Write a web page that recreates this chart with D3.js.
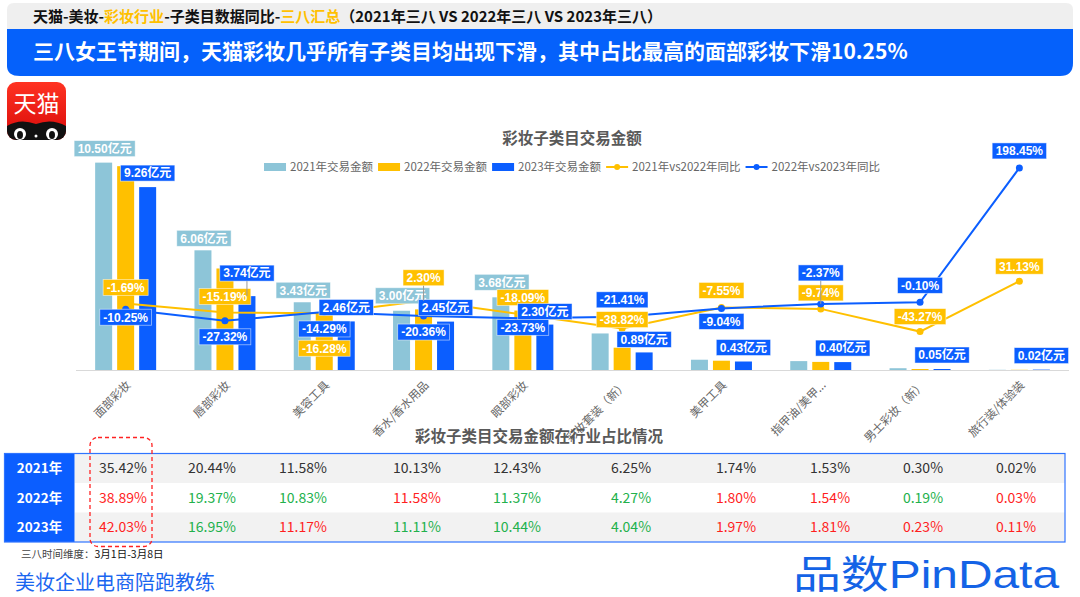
<!DOCTYPE html>
<html><head><meta charset="utf-8">
<script src="https://cdn.jsdelivr.net/npm/d3@7"></script>
<style>
html,body{margin:0;padding:0;background:#fff;}
svg{display:block;font-family:'Noto Sans CJK SC','Noto Sans',sans-serif;}
</style></head>
<body><svg id="c" width="1080" height="597"></svg>
<script>
// ---------- data ----------
const categories = ["面部彩妆","唇部彩妆","美容工具","香水/香水用品","眼部彩妆","彩妆套装（新）","美甲工具","指甲油/美甲...","男士彩妆（新）","旅行装/体验装"];
const gmv2021 = [10.50,6.06,3.43,3.00,3.68,1.85,0.52,0.45,0.09,0.01];
const gmv2022 = [10.32,5.14,2.87,3.07,3.01,1.13,0.47,0.41,0.05,0.01];
const gmv2023 = [9.26,3.74,2.46,2.45,2.30,0.89,0.43,0.40,0.05,0.02];
const yoy2122 = [-1.69,-15.19,-16.28,2.30,-18.09,-38.82,-7.55,-9.74,-43.27,31.13];
const yoy2223 = [-10.25,-27.32,-14.29,-20.36,-23.73,-21.41,-9.04,-2.37,-0.10,198.45];
const share2021 = [35.42,20.44,11.58,10.13,12.43,6.25,1.74,1.53,0.30,0.02];
const share2022 = [38.89,19.37,10.83,11.58,11.37,4.27,1.80,1.54,0.19,0.03];
const share2023 = [42.03,16.95,11.17,11.11,10.44,4.04,1.97,1.81,0.23,0.11];
const yearLabels = ["2021年","2022年","2023年"];
const barSeries = ["2021年交易金额","2022年交易金额","2023年交易金额"];
const lineSeries = ["2021年vs2022年同比","2022年vs2023年同比"];

// ---------- layout / style ----------
const C = {light:"#8DC5D8", yellow:"#FFC000", blue:"#0B5EFF", gray:"#595959"};
const lbl2122Dy = [-16,-16,35,-23,-17,-9,-17,-16,-15,-15];
const lbl2223Dy = [8,16,17,16,9,-17,13,-31,-17,-17];
const lbl2023Dy = [-14,-23,-14,-14,-13,-13,-14,-14,-14,-14];
const lbl2021Dy = [-14,-12,-12,-15,-15];
const tableColX = [123,212,303,417,517,631,736,830,923,1016];
const LBLFONT = "'Liberation Sans','Noto Sans CJK SC',sans-serif";

const svg = d3.select("#c");

// ---------- header ----------
svg.append("path").attr("d","M7,10 Q7,3 14,3 L1066,3 Q1073,3 1073,10 L1073,29 L7,29 Z").attr("fill","#EFEFEF");
const t1 = svg.append("text").attr("x",33).attr("y",22).attr("font-size",15).attr("font-weight","bold").attr("fill","#111");
[["天猫-美妆-","#111"],["彩妆行业",C.yellow],["-子类目数据同比-","#111"],["三八汇总",C.yellow],["（2021年三八 VS 2022年三八 VS 2023年三八）","#111"]]
  .forEach(([s,c])=>t1.append("tspan").attr("fill",c).text(s));
svg.append("path").attr("d","M7,29 L1073,29 L1073,63 Q1073,76 1060,76 L20,76 Q7,76 7,66 Z").attr("fill","#0561FB");
svg.append("text").attr("x",33).attr("y",59).attr("font-size",21).attr("font-weight","bold").attr("fill","#fff")
  .text("三八女王节期间，天猫彩妆几乎所有子类目均出现下滑，其中占比最高的面部彩妆下滑10.25%");

// Tmall logo
const defs = svg.append("defs");
defs.append("clipPath").attr("id","lg").append("rect").attr("x",7).attr("y",82).attr("width",59).attr("height",58).attr("rx",9);
const grad = defs.append("linearGradient").attr("id","rg").attr("x1",0).attr("y1",0).attr("x2",0).attr("y2",1);
grad.append("stop").attr("offset","0").attr("stop-color","#FF3322");
grad.append("stop").attr("offset","1").attr("stop-color","#D80A0A");
const logo = svg.append("g").attr("clip-path","url(#lg)");
logo.append("rect").attr("x",7).attr("y",82).attr("width",59).attr("height",58).attr("fill","url(#rg)");
logo.append("path").attr("d","M7,140 L7,126 Q20,118 36,124 Q52,118 66,126 L66,140 Z").attr("fill","#111");
[[20,134],[52,134]].forEach(([x,y])=>{
  logo.append("ellipse").attr("cx",x).attr("cy",y).attr("rx",6).attr("ry",6).attr("fill","#fff");
  logo.append("ellipse").attr("cx",x).attr("cy",y+1).attr("rx",3).attr("ry",4).attr("fill","#111");
});
logo.append("circle").attr("cx",36).attr("cy",136).attr("r",1.5).attr("fill","#fff");
svg.append("text").attr("x",36.5).attr("y",112).attr("text-anchor","middle").attr("font-size",23).attr("fill","#fff").text("天猫");

// ---------- chart ----------
const x0 = d3.scaleBand().domain(categories).range([76,1069]).padding(0);
const x1 = d3.scaleBand().domain(barSeries).range([-30.5,30.5]).paddingInner(5/22);
const y = d3.scaleLinear().domain([0,12]).range([370,133]);
const y2 = d3.scaleLinear().domain([-100,250]).range([370,133]);
const cx = c => x0(c) + x0.bandwidth()/2;

svg.append("text").attr("x",572).attr("y",144).attr("text-anchor","middle").attr("font-size",15.5)
  .attr("font-weight","bold").attr("fill",C.gray).text("彩妆子类目交易金额");

// legend
const legItems = [
  {name:barSeries[0],type:"bar",color:C.light},
  {name:barSeries[1],type:"bar",color:C.yellow},
  {name:barSeries[2],type:"bar",color:C.blue},
  {name:lineSeries[0],type:"line",color:C.yellow},
  {name:lineSeries[1],type:"line",color:C.blue}];
let lx = 0; const legY = 167;
const legG = svg.append("g").attr("font-size",11.5);
legItems.forEach(it=>{
  if(it.type==="bar") legG.append("rect").attr("x",lx).attr("y",legY-4).attr("width",22).attr("height",8).attr("fill",it.color);
  else {
    legG.append("line").attr("x1",lx).attr("x2",lx+22).attr("y1",legY).attr("y2",legY).attr("stroke",it.color).attr("stroke-width",2);
    legG.append("circle").attr("cx",lx+11).attr("cy",legY).attr("r",3).attr("fill",it.color);
  }
  const t = legG.append("text").attr("x",lx+26).attr("y",legY+4).attr("fill","#666").text(it.name);
  lx += 26 + t.node().getComputedTextLength() + 5;
});
legG.attr("transform",`translate(${572 - (lx-5)/2},0)`);

// axis line
svg.append("line").attr("x1",76).attr("x2",1069).attr("y1",370.5).attr("y2",370.5).attr("stroke","#D9D9D9");

// bars
const barData = [gmv2021,gmv2022,gmv2023];
const barColors = [C.light,C.yellow,C.blue];
barData.forEach((arr,si)=>{
  svg.append("g").selectAll("rect").data(arr).join("rect")
    .attr("x",(d,i)=>x0(categories[i]) + x0.bandwidth()/2 + x1(barSeries[si]))
    .attr("width",x1.bandwidth())
    .attr("y",d=>y(d)).attr("height",d=>Math.max(0,370-y(d)))
    .attr("fill",barColors[si]);
});

// x labels
svg.append("g").selectAll("text").data(categories).join("text")
  .attr("transform",d=>`translate(${cx(d)+3},383) rotate(-45)`)
  .attr("text-anchor","end").attr("dy","0.35em").attr("font-size",11.5).attr("fill","#666").text(d=>d);

// lines
const lineData = [yoy2122, yoy2223];
const lineColors = [C.yellow, C.blue];
const lineGen = d3.line().x((d,i)=>cx(categories[i])).y(d=>y2(d));
lineData.forEach((arr,li)=>{
  svg.append("path").datum(arr).attr("d",lineGen).attr("fill","none").attr("stroke",lineColors[li]).attr("stroke-width",2);
  svg.append("g").selectAll("circle").data(arr).join("circle")
    .attr("cx",(d,i)=>cx(categories[i])).attr("cy",d=>y2(d)).attr("r",3.5).attr("fill",lineColors[li]);
});

// labels
const labelLayer = svg.append("g");
const leaderLayer = svg.append("g");
function box(xc, yc, txt, color){
  const g = labelLayer.append("g");
  const t = g.append("text").attr("x",xc).attr("y",yc).attr("dy","0.36em").attr("text-anchor","middle")
    .attr("font-family",LBLFONT).attr("font-size",12).attr("font-weight","bold").attr("fill","#fff").text(txt);
  const w = t.node().getComputedTextLength() + 7;
  g.insert("rect","text").attr("x",xc-w/2).attr("y",yc-8).attr("width",w).attr("height",16)
    .attr("fill",color).attr("stroke","rgba(255,255,255,0.6)").attr("stroke-width",0.8);
}
function leader(xc, y1, y2v){
  leaderLayer.append("line").attr("x1",xc).attr("x2",xc).attr("y1",y1).attr("y2",y2v).attr("stroke","#9a9a9a").attr("stroke-width",1);
}
// 2021 bar labels (only larger ones visible)
gmv2021.forEach((v,i)=>{
  if(v<3) return;
  const xc = cx(categories[i]) + x1(barSeries[0]) + x1.bandwidth()/2 + 1;
  box(xc, y(v)+lbl2021Dy[i], v.toFixed(2)+"亿元", C.light);
});
// line labels
yoy2122.forEach((v,i)=>{
  const xc = cx(categories[i]), yc = y2(v)+lbl2122Dy[i];
  box(xc, yc, v.toFixed(2)+"%", C.yellow);
  if(Math.abs(lbl2122Dy[i])>20 && lbl2122Dy[i]<0) leader(xc, yc+8, y2(v));
});
yoy2223.forEach((v,i)=>{
  const xc = cx(categories[i]), yc = y2(v)+lbl2223Dy[i];
  box(xc, yc, v.toFixed(2)+"%", C.blue);
  if(Math.abs(lbl2223Dy[i])>20 && lbl2223Dy[i]<0) leader(xc, yc+8, y2(v));
});
// 2023 bar labels
gmv2023.forEach((v,i)=>{
  const xc = cx(categories[i]) + x1(barSeries[2]) + x1.bandwidth()/2;
  const yc = y(v)+lbl2023Dy[i];
  box(xc, yc, v.toFixed(2)+"亿元", C.blue);
  if(lbl2023Dy[i] < -18) leader(xc, yc+8, y(v));
});

// ---------- table ----------
svg.append("text").attr("x",539).attr("y",442).attr("text-anchor","middle").attr("font-size",15.5)
  .attr("font-weight","bold").attr("fill",C.gray).text("彩妆子类目交易金额在行业占比情况");

const tTop = 453.5, rowH = 29.5, tLeft = 4.5, tRight = 1065, hdrW = 70;
const shares = [share2021, share2022, share2023];
shares.forEach((row,ri)=>{
  const yTop = tTop + ri*rowH;
  svg.append("rect").attr("x",tLeft+hdrW).attr("y",yTop).attr("width",tRight-tLeft-hdrW).attr("height",rowH)
    .attr("fill", ri%2===0 ? "#F2F2F2" : "#FFFFFF");
});
svg.append("rect").attr("x",tLeft).attr("y",tTop).attr("width",hdrW).attr("height",rowH*3).attr("fill","#0B5EFF");
svg.append("rect").attr("x",tLeft).attr("y",tTop).attr("width",tRight-tLeft).attr("height",rowH*3)
  .attr("fill","none").attr("stroke","#2F74FF").attr("stroke-width",1.2);
svg.append("g").selectAll("text").data(yearLabels).join("text")
  .attr("x",tLeft+hdrW/2).attr("y",(d,i)=>tTop+rowH*i+rowH/2).attr("dy","0.36em").attr("text-anchor","middle")
  .attr("font-size",13.5).attr("font-weight","bold").attr("fill","#fff").text(d=>d);
shares.forEach((row,ri)=>{
  svg.append("g").selectAll("text").data(row).join("text")
    .attr("x",(d,i)=>tableColX[i]).attr("y",tTop+rowH*ri+rowH/2).attr("dy","0.36em").attr("text-anchor","middle")
    .attr("font-size",14).attr("fill",(d,i)=>{
      if(ri===0) return "#333";
      const prev = shares[ri-1][i];
      return d>prev ? "#FF1F1F" : (d<prev ? "#22B14C" : "#333");
    }).text(d=>d.toFixed(2)+"%");
});
// red dashed highlight
svg.append("rect").attr("x",90).attr("y",437.5).attr("width",62).attr("height",109).attr("rx",8)
  .attr("fill","none").attr("stroke","#F22").attr("stroke-width",1.3).attr("stroke-dasharray","4,3");

// footer
const fn = svg.append("text").attr("x",21).attr("y",558).attr("font-size",10.5);
fn.append("tspan").attr("fill","#444").text("三八时间维度：");
fn.append("tspan").attr("fill","#111").text("3月1日-3月8日");
svg.append("text").attr("x",15).attr("y",590).attr("font-size",20).attr("fill","#1A66F0").text("美妆企业电商陪跑教练");
svg.append("text").attr("x",793).attr("y",588).attr("font-size",39).attr("fill","#1463E6")
  .attr("font-family","'Liberation Sans','Noto Sans CJK SC',sans-serif")
  .attr("textLength",266).attr("lengthAdjust","spacingAndGlyphs").text("品数PinData");
</script></body></html>
